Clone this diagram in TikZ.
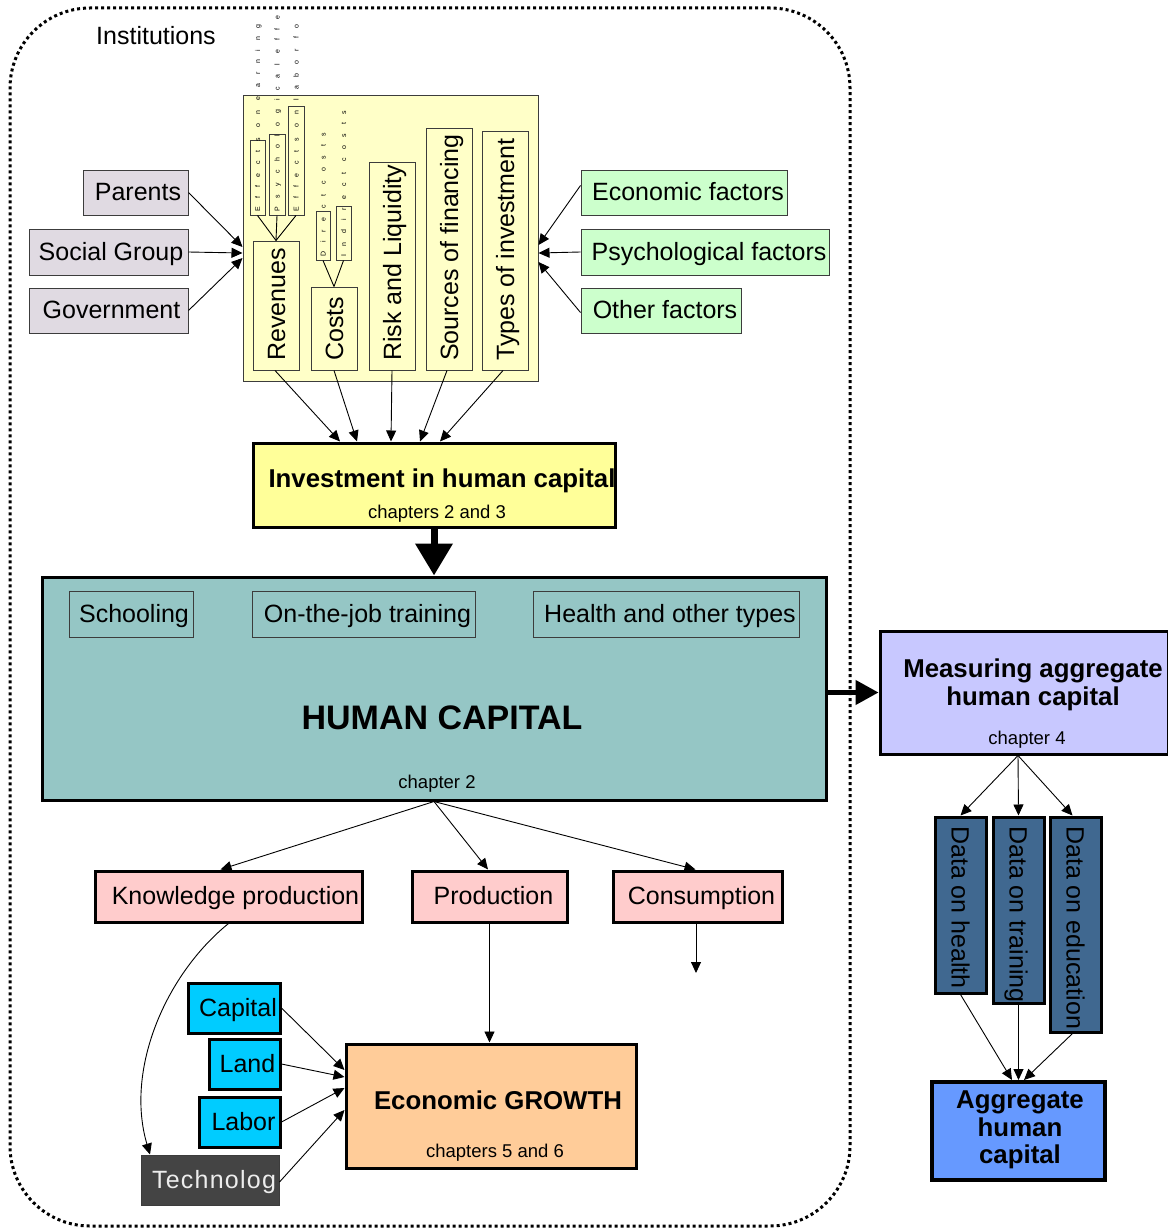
\documentclass[tikz,border=0pt]{standalone}
\usepackage{fontspec}
\setmainfont{Liberation Sans}
\newfontfamily\spacedfont[LetterSpace=125]{Liberation Sans}
\newfontfamily\techfont[LetterSpace=5]{Liberation Sans}
\usetikzlibrary{arrows.meta}

\definecolor{graybox}{RGB}{224,218,226}
\definecolor{yellowbg}{RGB}{255,255,200}
\definecolor{greenbox}{RGB}{204,255,204}
\definecolor{invyellow}{RGB}{255,255,153}
\definecolor{hcteal}{RGB}{149,198,197}
\definecolor{measblue}{RGB}{200,200,255}
\definecolor{datablue}{RGB}{64,104,144}
\definecolor{aggblue}{RGB}{102,153,255}
\definecolor{pinkbox}{RGB}{255,204,204}
\definecolor{cyanbox}{RGB}{0,204,255}
\definecolor{techgray}{RGB}{68,68,68}
\definecolor{peach}{RGB}{255,204,153}
\definecolor{edgegray}{RGB}{60,60,60}

\tikzset{
  thinbox/.style={draw=edgegray, line width=1pt},
  thickbox/.style={draw=black, line width=3pt},
  lbl/.style={font=\fontsize{25}{29}\selectfont, inner sep=0pt},
  boxlbl/.style={font=\fontsize{25}{29}\selectfont, text height=18pt, text depth=2pt},
  boldlbl/.style={font=\fontsize{25.8}{28}\selectfont\bfseries, inner sep=0pt, align=center},
  smalllbl/.style={font=\fontsize{18.5}{21}\selectfont, inner sep=0pt},
  tinylbl/.style={font=\spacedfont\fontsize{7}{8}\selectfont, inner sep=0pt},
  arr/.style={-{Triangle[length=11pt,width=10pt]}, line width=0.9pt},
  plain/.style={line width=0.9pt},
}

\newcommand\mkbox[7]{%
  \pgfmathsetmacro\bcx{(#3+#5)/2}%
  \pgfmathsetmacro\bcy{(#4+#6)/2}%
  \pgfmathsetmacro\bww{#5-#3}%
  \pgfmathsetmacro\bhh{#6-#4}%
  \node[rectangle, #2, minimum width=\bww pt, minimum height=\bhh pt, inner sep=0pt] (#1) at (\bcx,\bcy) {#7};}

\begin{document}
\begin{tikzpicture}[x=1pt,y=-1pt]
\useasboundingbox (0,0) rectangle (1167,1228);

% outer dotted institutions frame
\mkbox{inst}{draw=black, line width=3pt, dash pattern=on 3pt off 3pt, rounded corners=80pt}{10}{8}{850}{1226}{}
\node[lbl] (instT) at (156,36) {Institutions};

% yellow container
\mkbox{yel}{fill=yellowbg, thinbox}{243}{96}{538}{381}{}

% small sub-boxes above Revenues and Costs
\mkbox{ef1}{thinbox}{250}{140}{265}{215}{}
\mkbox{ef2}{thinbox}{269}{135}{285}{215}{}
\mkbox{ef3}{thinbox}{288}{107}{304}{215}{}
\mkbox{dir}{thinbox}{316}{211}{330}{260}{}
\mkbox{ind}{thinbox}{336}{206}{351}{260}{}
\node[tinylbl, rotate=90, anchor=base west] (ef1T) at (260,212) {Effects on earning};
\node[tinylbl, rotate=90, anchor=base west] (ef2T) at (279.5,212) {Psychological effe};
\node[tinylbl, rotate=90, anchor=base west] (ef3T) at (298.5,212) {Effects on labor fo};
\node[tinylbl, rotate=90, anchor=base west] (dirT) at (325.5,257) {Direct costs};
\node[tinylbl, rotate=90, anchor=base west] (indT) at (346,257) {Indirect costs};

% columns
\mkbox{rev}{thinbox}{253}{241}{299}{370}{}
\mkbox{cost}{thinbox}{311}{287}{357}{370}{}
\mkbox{risk}{thinbox}{369}{162}{415}{370}{}
\mkbox{src}{thinbox}{426}{129}{472}{370}{}
\mkbox{typ}{thinbox}{482}{132}{528}{370}{}
\node[lbl, rotate=90, anchor=base west] (revT) at (285,361) {Revenues};
\node[lbl, rotate=90, anchor=base west] (costT) at (343,361) {Costs};
\node[lbl, rotate=90, anchor=base west] (riskT) at (401,361) {Risk and Liquidity};
\node[lbl, rotate=90, anchor=base west] (srcT) at (458,361) {Sources of financing};
\node[lbl, rotate=90, anchor=base west] (typT) at (514,361) {Types of investment};

\draw[plain] (ef1.south) -- (rev.north);
\draw[plain] (ef2.south) -- (rev.north);
\draw[plain] (ef3.south) -- (rev.north);
\draw[plain] (dir.south) -- (cost.north);
\draw[plain] (ind.south) -- (cost.north);

% left gray boxes
\mkbox{par}{fill=graybox, thinbox, boxlbl}{83}{170}{188}{215}{\hspace{5pt}Parents}
\mkbox{soc}{fill=graybox, thinbox, boxlbl}{29}{229}{188}{275}{\hspace{5pt}Social Group}
\mkbox{gov}{fill=graybox, thinbox, boxlbl}{29}{288}{188}{333}{\hspace{6pt}Government}

% right green boxes
\mkbox{eco}{fill=greenbox, thinbox, boxlbl}{581}{170}{787}{215}{\hspace{8pt}Economic factors}
\mkbox{psy}{fill=greenbox, thinbox, boxlbl}{581}{229}{829}{275}{\hspace{8pt}Psychological factors}
\mkbox{oth}{fill=greenbox, thinbox, boxlbl}{581}{288}{741}{333}{\hspace{8pt}Other factors}

\draw[arr] (par.east) -- ([yshift=-8.5pt]yel.west);
\draw[arr] (soc.east) -- ([yshift=-14.5pt]yel.west);
\draw[arr] (gov.east) -- ([yshift=-19.5pt]yel.west);
\draw[arr] ([yshift=7pt]eco.west) -- ([yshift=-6.5pt]yel.east);
\draw[arr] (psy.west) -- ([yshift=-14.5pt]yel.east);
\draw[arr] ([yshift=-2pt]oth.west) -- ([yshift=-23.5pt]yel.east);

% investment
\mkbox{inv}{fill=invyellow, thickbox}{253}{443}{615}{527}{}
\node[boldlbl] (invT) at (442,481) {Investment in human capital};
\node[smalllbl] (invC) at (437,514) {chapters 2 and 3};

\draw[arr] ([xshift=-1pt]rev.south) -- ([xshift=-94pt]inv.north);
\draw[arr] (cost.south) -- ([xshift=-77pt]inv.north);
\draw[arr] (risk.south) -- ([xshift=-43pt]inv.north);
\draw[arr] ([xshift=-2pt]src.south) -- ([xshift=-14pt]inv.north);
\draw[arr] ([xshift=-2pt]typ.south) -- ([xshift=6pt]inv.north);

% human capital
\mkbox{hc}{fill=hcteal, thickbox}{42}{577}{826}{800}{}
\mkbox{sch}{thinbox, boxlbl}{69}{591}{193}{637}{\hspace{6pt}Schooling}
\mkbox{ojt}{thinbox, boxlbl}{252}{591}{475}{637}{\hspace{8pt}On-the-job training}
\mkbox{hlt}{thinbox, boxlbl}{533}{591}{799}{637}{\hspace{8pt}Health and other types}
\node[font=\fontsize{34}{38}\selectfont\bfseries, inner sep=0pt] (hcT) at (442,718) {HUMAN CAPITAL};
\node[smalllbl] (hcC) at (437,784) {chapter 2};

\draw[line width=7pt, -{Triangle[length=32pt,width=36pt]}] (inv.south) -- (hc.north);

% measuring
\mkbox{meas}{fill=measblue, thickbox}{880}{631}{1168}{754}{}
\node[boldlbl] (measT) at (1033,685) {Measuring aggregate\\human capital};
\node[smalllbl] (measC) at (1027,740) {chapter 4};
\draw[line width=4.5pt, -{Triangle[length=23pt,width=24pt]}] (hc.east |- meas.west) -- (meas.west);

% data boxes
\mkbox{dh}{fill=datablue, thickbox}{935}{817}{986}{993}{}
\mkbox{dt}{fill=datablue, thickbox}{993}{817}{1044}{1003}{}
\mkbox{de}{fill=datablue, thickbox}{1050}{817}{1101}{1032}{}
\node[lbl, rotate=-90, anchor=base west] (dhT) at (951.5,826) {Data on health};
\node[lbl, rotate=-90, anchor=base west] (dtT) at (1009.5,826) {Data on training};
\node[lbl, rotate=-90, anchor=base west] (deT) at (1066.5,826) {Data on education};

\draw[arr] ([xshift=-6pt]meas.south) -- (dh.north);
\draw[arr] ([xshift=-6pt]meas.south) -- (dt.north);
\draw[arr] ([xshift=-6pt]meas.south) -- ([xshift=-3pt]de.north);

% aggregate
\mkbox{agg}{fill=aggblue, draw=black, line width=4pt}{932}{1082}{1105}{1180}{}
\node[boldlbl, font=\fontsize{25.8}{27.5}\selectfont\bfseries] (aggT) at (1020,1130) {Aggregate\\human\\capital};
\draw[arr] (dh.south) -- ([xshift=-6.5pt]agg.north);
\draw[arr] (dt.south) -- (agg.north);
\draw[arr] ([xshift=-3pt]de.south) -- ([xshift=5.5pt]agg.north);

% pink boxes
\mkbox{kp}{fill=pinkbox, thickbox, boxlbl}{95}{871}{362}{922}{\hspace{14pt}Knowledge production}
\mkbox{prod}{fill=pinkbox, thickbox, boxlbl}{412}{871}{567}{922}{\hspace{8pt}Production}
\mkbox{cons}{fill=pinkbox, thickbox, boxlbl}{613}{871}{782}{922}{\hspace{8pt}Consumption}
\draw[arr] (hc.south) -- ([xshift=-8pt]kp.north);
\draw[arr] (hc.south) -- ([xshift=-1.5pt]prod.north);
\draw[arr] (hc.south) -- ([xshift=-2pt]cons.north);
\coordinate (consEnd) at (696,973);
\draw[arr] (cons.south -| consEnd) -- (consEnd);

% growth
\mkbox{gro}{fill=peach, thickbox}{346}{1044}{636}{1168}{}
\node[boldlbl] (groT) at (498,1100) {Economic GROWTH};
\node[smalllbl] (groC) at (495,1153) {chapters 5 and 6};
\draw[arr] (prod.south) -- (prod.south |- gro.north);

% factor boxes
\mkbox{cap}{fill=cyanbox, thickbox, boxlbl}{188}{983}{280}{1033}{\hspace{8pt}Capital}
\mkbox{land}{fill=cyanbox, thickbox, boxlbl}{209}{1039}{280}{1089}{\hspace{6pt}Land}
\mkbox{lab}{fill=cyanbox, thickbox, boxlbl}{199}{1097}{280}{1147}{\hspace{8pt}Labor}
\mkbox{tech}{fill=techgray, thinbox, text=white!93!black, font=\techfont\fontsize{25}{29}\selectfont, text height=18pt, text depth=2pt}{141}{1155}{279}{1205}{\hspace{8pt}Technolog}
\draw[arr] (cap.east) -- ([yshift=36pt]gro.west);
\draw[arr] (land.east) -- ([yshift=29pt]gro.west);
\draw[arr] (lab.east) -- ([yshift=18pt]gro.west);
\draw[arr] ([yshift=-2pt]tech.east) -- ([yshift=-4pt]gro.west);

\draw[arr] (kp.south) .. controls (165,975) and (125,1070) .. ([xshift=-60pt]tech.north);
\end{tikzpicture}
\end{document}
